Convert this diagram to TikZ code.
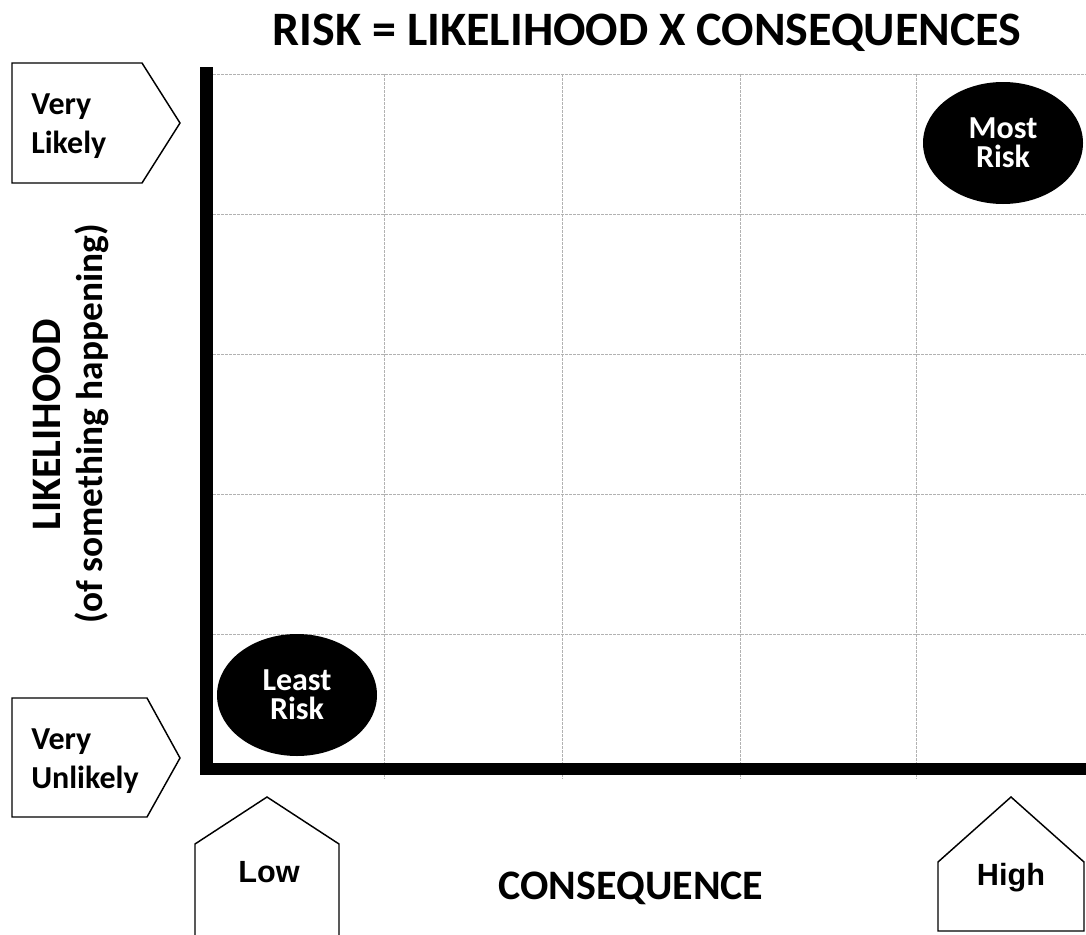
\documentclass[tikz,border=0pt]{standalone}
\usepackage{fontspec}
\setmainfont{Carlito}
\newfontfamily\arialfont{Liberation Sans}
\usetikzlibrary{shapes.geometric}

\tikzset{
    gridline/.style={draw=black!30, dash pattern=on 2pt off 1pt, line width=0.6pt},
    axisline/.style={line width=9.5pt, line join=miter},
    tagbox/.style={draw, line width=1.1pt, line join=miter},
    tagtext/.style={font=\bfseries\fontsize{24}{29}\selectfont, align=left, anchor=west, inner sep=0pt},
    riskblob/.style={ellipse, fill=black, text=white, minimum width=120pt, minimum height=91.5pt,
        align=center, inner sep=0pt, font=\bfseries\fontsize{24}{21.5}\selectfont},
    endtext/.style={font=\arialfont\bfseries\fontsize{23}{27}\selectfont}
}

\begin{document}
\begin{tikzpicture}[x=0.75pt, y=-0.75pt]
    \useasboundingbox (0,0) rectangle (1086,935);

    \node[font=\bfseries\fontsize{36}{43}\selectfont] (title) at (647,33) {RISK = LIKELIHOOD X CONSEQUENCES};

    % grid
    \foreach \gx in {384,562,740,916}
        \draw[gridline] (\gx,74) -- (\gx,779);
    \foreach \gy in {74,214,354,494,634}
        \draw[gridline] (213,\gy) -- (1086,\gy);

    % axes
    \draw[axisline] (206.5,67) -- (206.5,769) -- (1086,769);

    % likelihood tags
    \draw[tagbox] (12,63) -- (142,63) -- (180,123) -- (142,183) -- (12,183) -- cycle;
    \node[tagtext] (likely) at (31,126) {Very\\Likely};
    \draw[tagbox] (12,698) -- (147,698) -- (180,758) -- (147,817) -- (12,817) -- cycle;
    \node[tagtext] (unlikely) at (31,761) {Very\\Unlikely};

    % consequence tags
    \draw[tagbox] (195,945) -- (195,844) -- (267,797) -- (339,844) -- (339,945);
    \node[endtext] (low) at (269,872) {Low};
    \draw[tagbox] (938,931) -- (938,862) -- (1011,797) -- (1084,862) -- (1084,931) -- cycle;
    \node[endtext] (high) at (1011,878) {High};

    \node[riskblob] (least) at (297,695) {Least\\Risk};
    \node[riskblob] (most) at (1003,143) {Most\\Risk};

    \node[font=\bfseries\fontsize{31.5}{38}\selectfont] (conseq) at (631,888) {CONSEQUENCE};
    \node[rotate=90, font=\bfseries\fontsize{31.5}{38}\selectfont] (likelihood) at (47,425) {LIKELIHOOD};
    \node[rotate=90, font=\bfseries\fontsize{28}{34}\selectfont] (happening) at (92,424) {(of something happening)};
\end{tikzpicture}
\end{document}
